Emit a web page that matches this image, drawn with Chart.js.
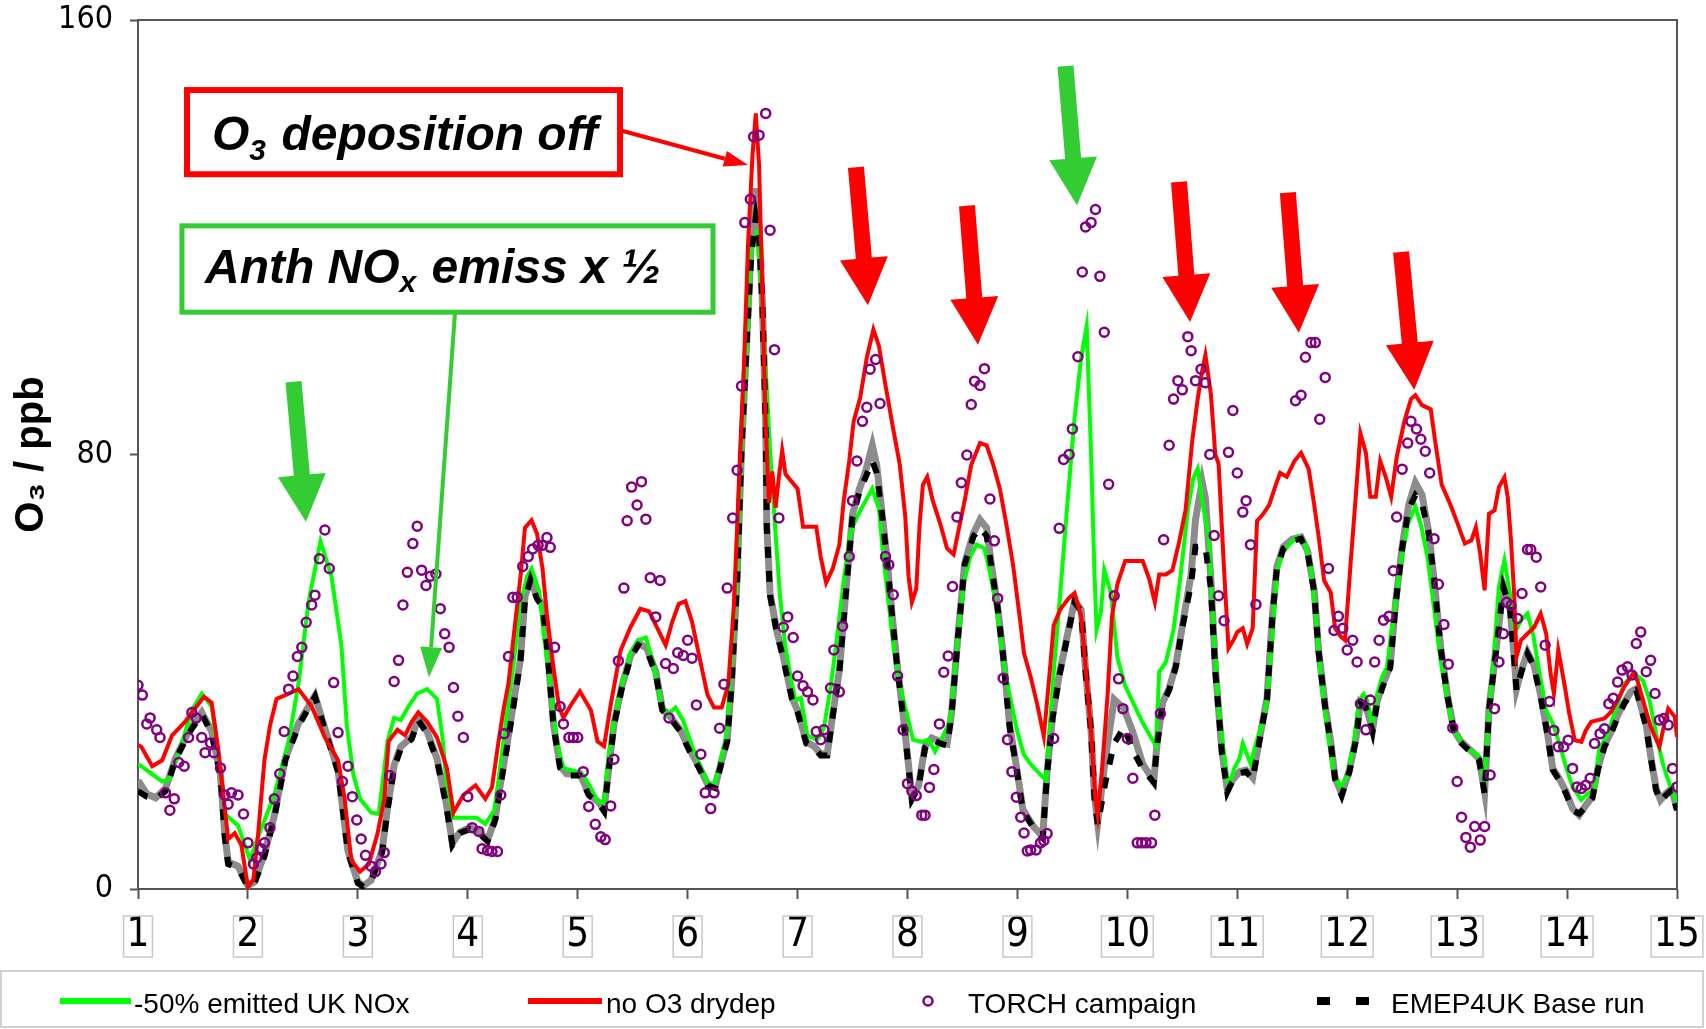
<!DOCTYPE html>
<html>
<head>
<meta charset="utf-8">
<title>O3 TORCH campaign vs EMEP4UK</title>
<script src="https://cdn.jsdelivr.net/npm/chart.js"></script>
<style>
  body { margin: 0; background: #fff; }
  #wrap { width: 1706px; height: 1029px; }
</style>
</head>
<body>
<div id="wrap"><canvas id="myChart" width="1706" height="1029"></canvas></div>
<script>
// x tick labels (day of campaign)
const dayTicks = [1, 2, 3, 4, 5, 6, 7, 8, 9, 10, 11, 12, 13, 14, 15];

// [day, O3 ppb]
const greenO3 = [
  [1.0,23],[1.03,22.6],[1.22,19.8],[1.28,20.1],[1.37,25],[1.49,32.9],[1.58,36],[1.67,33.6],[1.76,20],[1.79,13.8],
  [1.91,11.7],[2.02,5.3],[2.09,9.5],[2.24,17.3],[2.37,27.2],[2.46,37.8],[2.55,52.7],[2.66,64],[2.76,57.6],[2.85,44.9],
  [2.9,30],[2.96,21],[3.02,16.6],[3.12,14.1],[3.19,13.8],[3.27,27.2],[3.33,31.5],[3.39,31.1],[3.46,33.6],[3.54,36],
  [3.63,36.8],[3.72,35],[3.77,27.9],[3.81,18.7],[3.87,13.1],[3.99,13.1],[4.08,13.1],[4.16,12],[4.24,14.5],[4.28,20.1],
  [4.36,32.9],[4.42,42.1],[4.48,52.7],[4.54,57.6],[4.58,59],[4.65,54.8],[4.69,47],[4.75,37.8],[4.81,27.2],[4.87,22.3],
  [4.99,21.6],[5.05,21],[5.12,18.6],[5.18,16.2],[5.24,15.8],[5.28,24.4],[5.33,31],[5.39,36.8],[5.48,43.5],[5.55,45.8],
  [5.62,46.3],[5.69,41.5],[5.75,34.9],[5.81,32],[5.89,33.4],[5.96,31],[6.04,26.3],[6.12,22.4],[6.18,19.6],[6.24,19.1],
  [6.3,23.4],[6.36,29.1],[6.4,42.5],[6.45,58.7],[6.49,80.7],[6.54,101.7],[6.58,118.9],[6.63,120.8],[6.68,107.4],[6.72,92.2],
  [6.75,80.7],[6.8,65.4],[6.84,54],[6.89,44.4],[6.95,37.7],[6.98,34.8],[7.03,35.2],[7.09,28.2],[7.18,27.5],[7.24,29.7],
  [7.3,37],[7.36,46.5],[7.42,56.8],[7.48,65.6],[7.54,68.5],[7.62,71.5],[7.68,73.7],[7.74,70],[7.78,61.2],[7.83,52.4],
  [7.87,45.1],[7.92,38.5],[7.98,33.4],[8.05,27.5],[8.13,27.1],[8.19,27.5],[8.25,25.3],[8.31,27.5],[8.39,31.2],[8.45,45.1],
  [8.51,56.1],[8.57,61.2],[8.63,63.4],[8.7,62.7],[8.75,58.3],[8.81,51.7],[8.87,42.1],[8.93,35.6],[9.0,28.9],[9.06,24.7],
  [9.12,23],[9.18,21.7],[9.26,20],[9.29,28.9],[9.33,40],[9.39,54.5],[9.45,69.8],[9.52,86.8],[9.58,97.9],[9.63,103.6],
  [9.67,80],[9.7,58.7],[9.72,47.7],[9.76,51.1],[9.79,58.7],[9.85,54.5],[9.91,42.6],[9.98,37.4],[10.06,34],[10.14,30.6],
  [10.21,28.1],[10.26,26.4],[10.29,40],[10.35,41.7],[10.42,47.7],[10.48,57],[10.55,69.8],[10.6,75.7],[10.64,77.4],[10.68,71.5],
  [10.74,64.7],[10.79,46],[10.83,33.2],[10.88,24.7],[10.92,18.7],[10.97,22.1],[11.02,24],[11.05,26.8],[11.12,23.1],[11.18,27.5],
  [11.23,30.4],[11.27,34.8],[11.32,46.5],[11.36,58.3],[11.41,61.9],[11.47,63.4],[11.55,64.9],[11.61,64.1],[11.67,59],[11.71,50.9],
  [11.76,39.2],[11.82,29],[11.88,20.9],[11.94,18.7],[12.0,20.9],[12.06,26.8],[12.11,34.8],[12.15,35.9],[12.18,34.8],[12.23,30.4],
  [12.27,35.6],[12.32,39.2],[12.36,40.7],[12.42,50.2],[12.48,59],[12.55,67.1],[12.62,70.4],[12.67,67.1],[12.73,61.2],[12.79,51.7],
  [12.85,42.1],[12.91,34.8],[12.97,29],[13.03,27.5],[13.07,26.2],[13.13,25.3],[13.19,24.6],[13.25,20],[13.29,32.3],[13.34,44.6],
  [13.38,55.6],[13.43,60.5],[13.48,54.4],[13.52,47],[13.58,49.5],[13.64,50.7],[13.69,47],[13.75,39.7],[13.81,32.9],[13.87,30.5],
  [13.93,26.8],[13.99,22.5],[14.05,18.8],[14.13,16.4],[14.19,17.6],[14.25,18.2],[14.29,25.6],[14.37,28.6],[14.45,33.5],[14.52,37.8],
  [14.61,39.7],[14.69,38.4],[14.75,34.8],[14.81,28.6],[14.87,23.1],[14.95,18.2],[15.0,16]
];

const redO3 = [
  [1.0,26.5],[1.03,26.2],[1.13,22.6],[1.22,23.7],[1.31,28.3],[1.43,30.8],[1.49,32.5],[1.6,35.4],[1.67,34.3],[1.73,25.8],
  [1.78,16.6],[1.82,9.2],[1.88,10.3],[1.94,8.1],[2.0,0.4],[2.05,1.8],[2.09,9.5],[2.15,23.7],[2.2,30],[2.26,35],
  [2.34,35.7],[2.46,36.8],[2.58,33.6],[2.7,27.9],[2.82,23.7],[2.88,16.6],[2.94,5.3],[3.02,3.2],[3.1,4.6],[3.18,10.3],
  [3.24,16.6],[3.28,27.2],[3.36,29.3],[3.43,28.3],[3.49,30.8],[3.55,32.5],[3.63,30.8],[3.72,27.9],[3.81,22.3],[3.87,14.1],
  [3.96,17.3],[4.07,19.1],[4.16,16.6],[4.22,18.7],[4.28,27.2],[4.33,33.6],[4.37,37.8],[4.42,47],[4.48,57.6],[4.52,66.5],
  [4.58,67.9],[4.63,65.4],[4.68,59],[4.72,50.5],[4.78,40.7],[4.83,33.6],[4.87,31.5],[4.93,33.6],[5.02,36.4],[5.12,32.9],
  [5.18,27.2],[5.24,26.3],[5.3,33.9],[5.39,43.9],[5.48,48.2],[5.57,51.6],[5.65,51.1],[5.72,48.2],[5.8,44.9],[5.86,49.2],
  [5.92,52.5],[5.98,53],[6.04,49.2],[6.12,41.5],[6.18,35.8],[6.24,33.4],[6.31,33.4],[6.37,37.7],[6.42,52],[6.46,71.1],
  [6.51,95],[6.55,118.9],[6.59,135.1],[6.62,142.8],[6.65,133.2],[6.68,109.3],[6.71,85.5],[6.74,71.1],[6.77,76.9],[6.8,70.2],
  [6.83,75.9],[6.86,80.7],[6.89,76.4],[6.93,75.4],[7.0,73.7],[7.05,66.7],[7.17,66.7],[7.21,61.2],[7.26,56.4],[7.32,59],
  [7.38,63.4],[7.42,71.5],[7.47,78.8],[7.51,86.1],[7.57,90.5],[7.63,97.9],[7.69,103],[7.74,100],[7.8,92.7],[7.87,84.7],
  [7.93,78.1],[7.98,68.5],[8.01,57.5],[8.04,52.8],[8.08,55.3],[8.11,67.1],[8.14,74.4],[8.18,75.9],[8.23,71.5],[8.3,67.1],
  [8.36,62.7],[8.42,61.6],[8.46,65.6],[8.52,71.5],[8.58,78.1],[8.66,82.1],[8.72,81.7],[8.78,78.1],[8.84,73.7],[8.9,67.1],
  [8.96,59.7],[9.02,50.2],[9.06,43.4],[9.12,39.1],[9.18,34],[9.24,28.1],[9.29,39.1],[9.33,48.5],[9.39,51.5],[9.47,53.6],
  [9.52,54.5],[9.58,50.2],[9.62,40.8],[9.67,28.9],[9.71,16.2],[9.73,13.6],[9.77,22.1],[9.82,35.7],[9.86,50.2],[9.91,56.2],
  [9.98,60.4],[10.06,60.4],[10.14,60.4],[10.2,57],[10.25,52.8],[10.29,57.9],[10.35,57.9],[10.41,58.7],[10.47,63.8],[10.53,69.8],
  [10.59,82.5],[10.64,90.2],[10.68,95.3],[10.71,98.3],[10.76,91.1],[10.8,80],[10.83,78.3],[10.88,58.7],[10.92,44.3],[10.97,46],
  [11.0,47.3],[11.05,48],[11.09,45.1],[11.14,48],[11.18,67.8],[11.23,68.9],[11.29,70.7],[11.35,74.4],[11.39,76.6],[11.45,75.9],
  [11.52,78.8],[11.58,80.3],[11.65,77.3],[11.7,70.7],[11.74,64.9],[11.79,56.8],[11.85,54.6],[11.89,48],[11.94,46.5],[11.98,45.8],
  [12.03,59.7],[12.08,72.9],[12.12,83.9],[12.17,80.3],[12.21,72.2],[12.26,72.2],[12.3,78.8],[12.35,75.9],[12.4,72.2],[12.45,79.5],
  [12.52,86.1],[12.58,90.2],[12.62,90.9],[12.68,89.1],[12.76,88.3],[12.8,82.5],[12.86,74.4],[12.94,70.7],[13.0,67.5],[13.07,63.6],
  [13.13,64.2],[13.17,66.6],[13.21,61.7],[13.25,55],[13.29,69.1],[13.34,69.7],[13.38,74],[13.43,75.8],[13.46,72.2],[13.49,64.2],
  [13.52,53.8],[13.54,42.7],[13.58,45.8],[13.64,47],[13.7,48.2],[13.76,50.7],[13.81,47],[13.85,39.7],[13.88,36],[13.92,44],
  [13.98,37.2],[14.02,32.3],[14.07,27.4],[14.13,27.1],[14.17,29.2],[14.22,30.8],[14.28,31.1],[14.34,31.4],[14.4,32.6],[14.46,34.8],
  [14.52,37.2],[14.6,39.7],[14.64,38.4],[14.7,34.1],[14.76,29.9],[14.84,26.2],[14.88,29.9],[14.92,33.2],[14.98,31.7],[15.0,28]
];

const baseO3 = [
  [1.0,18],[1.08,17],[1.16,16.6],[1.25,18],[1.34,23.7],[1.46,28.6],[1.58,32.2],[1.67,28.6],[1.75,20.9],[1.79,9.5],
  [1.82,4.6],[1.91,3.9],[2.0,0.4],[2.06,1.1],[2.15,6],[2.24,13.1],[2.34,23.7],[2.46,30],[2.61,35.4],[2.7,29.3],
  [2.82,21.6],[2.91,6.7],[3.0,1.1],[3.05,0.4],[3.12,1.4],[3.22,6.7],[3.27,14.5],[3.33,22.3],[3.39,25.8],[3.49,27.6],
  [3.55,31.1],[3.63,28.6],[3.72,23.7],[3.8,15.9],[3.86,8.1],[3.93,10.3],[4.02,11],[4.1,10.3],[4.18,8.8],[4.25,12.7],
  [4.3,19.4],[4.36,26.5],[4.42,34.3],[4.48,42.1],[4.52,53.4],[4.57,56.9],[4.63,53.4],[4.68,52],[4.72,44.9],[4.78,30],
  [4.84,22.3],[4.9,20.9],[5.02,20.9],[5.1,17.3],[5.19,15.8],[5.24,14.3],[5.28,21.5],[5.33,30.1],[5.4,36.8],[5.48,42.5],
  [5.55,44.9],[5.63,43.9],[5.71,39.6],[5.77,32.9],[5.84,31.5],[5.93,29.1],[6.02,25.3],[6.1,22.4],[6.18,19.1],[6.25,18.6],
  [6.31,23.4],[6.36,27.2],[6.4,37.7],[6.45,56.8],[6.49,80.7],[6.54,101.7],[6.58,117],[6.62,123.7],[6.65,119.9],[6.68,107.4],
  [6.71,85.5],[6.72,66.4],[6.75,54],[6.81,47.3],[6.87,42.5],[6.95,34.9],[7.0,32.6],[7.08,26.8],[7.15,26],[7.21,24.6],
  [7.27,24.6],[7.32,31.9],[7.38,39.9],[7.44,54.6],[7.5,68.5],[7.56,72.9],[7.62,75.9],[7.68,78.8],[7.72,76.6],[7.77,68.5],
  [7.81,61.2],[7.86,50.2],[7.9,42.1],[7.96,31.9],[8.01,22.4],[8.04,16.5],[8.1,18.7],[8.16,26],[8.22,27.5],[8.3,26.8],
  [8.36,26.4],[8.4,31.9],[8.46,46.5],[8.52,59.7],[8.6,64.9],[8.66,66.5],[8.72,65],[8.76,59.7],[8.82,51.7],[8.87,42.9],
  [8.93,29.7],[8.99,22.4],[9.05,14.3],[9.15,11.1],[9.23,9.4],[9.27,21.3],[9.32,31.5],[9.38,39.1],[9.45,46],[9.52,52.8],
  [9.58,51.1],[9.62,40],[9.67,28.9],[9.7,17],[9.73,11.9],[9.8,19.6],[9.88,26.8],[9.97,29.8],[10.05,25.5],[10.14,22.1],
  [10.24,19.6],[10.27,26.4],[10.32,34],[10.38,36.6],[10.44,40.8],[10.5,48.1],[10.58,56.2],[10.62,63],[10.71,63],[10.76,55.3],
  [10.8,40],[10.83,32.8],[10.86,25.1],[10.91,17.9],[10.95,19.6],[11.02,21.3],[11.08,21.6],[11.14,20.2],[11.21,28.2],[11.27,34.8],
  [11.32,50.2],[11.36,59],[11.42,62.7],[11.5,64.1],[11.58,64.5],[11.64,61.9],[11.7,54.6],[11.74,43.6],[11.8,33.4],[11.85,26.8],
  [11.89,20.2],[11.95,17.2],[12.02,21.6],[12.08,27.5],[12.12,34.1],[12.17,33.4],[12.23,29],[12.27,34.1],[12.33,37.7],[12.39,40.7],
  [12.44,52.4],[12.5,62.7],[12.56,70],[12.62,72.5],[12.68,71],[12.74,65.6],[12.79,56.8],[12.85,44.3],[12.91,35.6],[12.97,29],
  [13.03,27],[13.07,26.2],[13.14,24.9],[13.2,23.7],[13.25,17.6],[13.29,32.9],[13.34,41.5],[13.38,48.2],[13.42,55.6],[13.48,51.9],
  [13.51,44.6],[13.54,36.6],[13.58,39.7],[13.64,43.3],[13.7,40.9],[13.76,35.4],[13.82,28.6],[13.87,21.9],[13.93,20],[13.99,17.6],
  [14.05,14.5],[14.11,13.9],[14.17,15.1],[14.23,16.7],[14.28,21.9],[14.34,26.2],[14.4,28.6],[14.46,31.7],[14.52,34.1],[14.58,36],
  [14.63,36.6],[14.67,33.5],[14.72,29.9],[14.76,24.3],[14.81,18.2],[14.85,16.1],[14.9,17.3],[14.95,18.2],[15.0,14.5]
];

// grey run drawn under the base run (no legend entry)
const greyO3 = [
  [1.0,20],[1.08,17.5],[1.16,16.8],[1.25,18.5],[1.34,24],[1.46,29],[1.58,32.5],[1.67,29],[1.75,21],[1.79,10],
  [1.82,5],[1.91,4.2],[2.0,0.6],[2.06,1.3],[2.15,6.5],[2.24,13.5],[2.34,24],[2.46,30.5],[2.61,35.6],[2.7,29.5],
  [2.82,21.8],[2.91,7],[3.0,1.3],[3.05,0.6],[3.12,1.6],[3.22,7],[3.27,15],[3.33,22.8],[3.39,26.2],[3.49,28],
  [3.55,31.5],[3.63,29],[3.72,24],[3.8,16.3],[3.86,8.5],[3.93,10.5],[4.02,11.3],[4.1,10.6],[4.18,9],[4.25,13],
  [4.3,19.8],[4.36,27],[4.42,34.8],[4.48,42.5],[4.52,53.8],[4.57,57.2],[4.63,53.8],[4.68,52.3],[4.72,45.3],[4.78,30.3],
  [4.84,22.6],[4.9,21.2],[5.02,21.2],[5.1,17.6],[5.19,16],[5.24,14.6],[5.28,21.8],[5.33,30.4],[5.4,37.2],[5.48,42.9],
  [5.55,45.3],[5.63,44.3],[5.71,40],[5.77,33.2],[5.84,31.8],[5.93,29.4],[6.02,25.6],[6.1,22.7],[6.18,19.4],[6.25,18.9],
  [6.31,23.7],[6.36,27.5],[6.4,38],[6.45,57.2],[6.49,81],[6.54,102],[6.58,120],[6.62,129],[6.65,122],[6.68,108],
  [6.71,86],[6.72,67],[6.75,54.5],[6.81,47.6],[6.87,42.8],[6.95,35.2],[7.0,32.9],[7.08,27.1],[7.15,26.3],[7.21,24.9],
  [7.27,24.9],[7.32,32.2],[7.38,40.2],[7.44,55],[7.5,69],[7.56,73.5],[7.62,77],[7.68,81.7],[7.72,78],[7.77,69],
  [7.81,61.5],[7.86,50.5],[7.9,42.4],[7.96,32.2],[8.01,22.7],[8.04,16.8],[8.1,19],[8.16,26.3],[8.22,27.8],[8.3,27.1],
  [8.36,26.7],[8.4,32.2],[8.46,46.8],[8.52,60],[8.6,65.5],[8.66,68],[8.72,66.5],[8.76,60.2],[8.82,52],[8.87,43.2],
  [8.93,30],[8.99,22.7],[9.05,14.6],[9.15,11.4],[9.23,9.7],[9.27,21.6],[9.32,31.8],[9.38,39.4],[9.45,46.3],[9.52,53.1],
  [9.58,51.4],[9.62,40.3],[9.67,29.2],[9.7,17.3],[9.73,12.2],[9.8,24],[9.88,34.9],[9.97,33.2],[10.05,28.9],[10.14,23],
  [10.24,19.9],[10.27,26.7],[10.32,34.3],[10.38,36.9],[10.44,41.1],[10.5,48.4],[10.58,58],[10.62,68],[10.68,75],[10.71,72],
  [10.76,57],[10.8,41],[10.83,33.1],[10.86,25.4],[10.91,18.2],[10.95,19.9],[11.02,21.6],[11.08,21.9],[11.14,20.5],[11.21,28.5],
  [11.27,35.1],[11.32,50.5],[11.36,59.3],[11.42,63],[11.5,64.4],[11.58,64.8],[11.64,62.2],[11.7,54.9],[11.74,43.9],[11.8,33.7],
  [11.85,27.1],[11.89,20.5],[11.95,17.5],[12.02,21.9],[12.08,27.8],[12.12,34.4],[12.17,33.7],[12.23,29.3],[12.27,34.4],[12.33,38],
  [12.39,41],[12.44,52.7],[12.5,63],[12.56,70.8],[12.62,74.8],[12.68,72.6],[12.74,65.9],[12.79,57.1],[12.85,44.6],[12.91,35.9],
  [12.97,29.3],[13.03,27.3],[13.07,26.5],[13.14,25.2],[13.2,24],[13.25,17.9],[13.29,33.2],[13.34,41.8],[13.38,48.5],[13.42,55.9],
  [13.48,52.2],[13.51,44.9],[13.54,36.9],[13.58,40],[13.64,43.6],[13.7,41.2],[13.76,35.7],[13.82,28.9],[13.87,22.2],[13.93,20.3],
  [13.99,17.9],[14.05,14.8],[14.11,13.6],[14.17,15.4],[14.23,17],[14.28,22.2],[14.34,26.5],[14.4,28.9],[14.46,32],[14.52,34.4],
  [14.58,36.3],[14.63,36.9],[14.67,33.8],[14.72,30.2],[14.76,24.6],[14.81,18.5],[14.85,16.4],[14.9,17.6],[14.95,18.5],[15.0,14.8]
];

const torchO3 = [
  [1.0,37.5],[1.04,35.7],[1.08,30.4],[1.11,31.5],[1.17,29.3],[1.2,27.9],[1.25,17.7],[1.29,14.5],[1.33,16.6],[1.37,23.3],
  [1.42,22.6],[1.46,27.9],[1.49,32.5],[1.53,31.5],[1.58,27.9],[1.61,25.1],[1.66,26.9],[1.69,25.1],[1.75,22.3],[1.79,17.3],
  [1.82,15.6],[1.85,17.7],[1.91,17.3],[1.96,13.8],[2.0,8.5],[2.05,4.6],[2.08,5.7],[2.12,7.4],[2.15,8.5],[2.2,11.3],
  [2.24,16.6],[2.29,21.2],[2.33,29],[2.37,36.8],[2.41,39.2],[2.45,42.8],[2.49,44.5],[2.53,49.1],[2.58,52.3],[2.61,54.1],
  [2.65,60.8],[2.7,66.1],[2.74,59],[2.78,38],[2.82,28.8],[2.86,19.8],[2.91,22.6],[2.95,17],[2.99,12.7],[3.03,9.2],
  [3.07,6.2],[3.12,4.2],[3.16,3.2],[3.21,4.6],[3.24,6.7],[3.29,20.9],[3.33,38.2],[3.37,42.1],[3.41,52.3],[3.45,58.3],
  [3.5,63.6],[3.54,66.8],[3.58,58.7],[3.62,55.9],[3.66,57.6],[3.71,58],[3.75,51.6],[3.79,47],[3.83,44.5],[3.87,37.1],
  [3.91,31.8],[3.96,27.9],[4.0,17],[4.04,11.3],[4.1,10.6],[4.13,7.4],[4.18,7.1],[4.22,6.9],[4.27,6.9],[4.3,17.3],
  [4.33,28.6],[4.37,42.8],[4.41,53.7],[4.45,53.7],[4.5,59.4],[4.55,61.2],[4.59,62.6],[4.64,63.3],[4.68,63.3],[4.72,64.7],
  [4.75,62.9],[4.79,44.5],[4.84,33.6],[4.87,30.4],[4.92,27.9],[4.96,27.9],[5.0,27.9],[5.05,21.6],[5.1,15.2],[5.16,11.9],
  [5.21,9.6],[5.25,9.1],[5.3,15.3],[5.33,23.9],[5.37,42],[5.42,55.4],[5.45,67.8],[5.49,74],[5.54,70.7],[5.58,75],
  [5.62,68.1],[5.66,57.3],[5.71,50.1],[5.75,56.8],[5.8,41.5],[5.83,31.5],[5.87,40.6],[5.91,43.5],[5.96,43],[6.0,45.8],
  [6.04,42.5],[6.08,33.9],[6.12,24.8],[6.16,17.7],[6.21,14.8],[6.24,17.7],[6.29,29.6],[6.33,37.7],[6.36,55.4],[6.41,68.3],
  [6.45,77.1],[6.49,92.6],[6.52,122.7],[6.57,127],[6.6,138.5],[6.65,138.8],[6.71,142.8],[6.75,121.3],[6.79,99.3],[6.83,68.3],
  [6.87,48.2],[6.91,50.1],[6.96,46.3],[7.0,39.2],[7.05,37.4],[7.09,36.3],[7.14,34.8],[7.17,29],[7.21,27.5],[7.24,29.3],
  [7.3,37],[7.33,44],[7.38,36.3],[7.41,48.4],[7.47,61.2],[7.5,71.5],[7.54,78.8],[7.59,86.1],[7.63,88.7],[7.66,95.7],
  [7.71,97.5],[7.75,89.4],[7.8,61.2],[7.83,59.7],[7.87,54.2],[7.91,39.2],[7.96,29.3],[8.0,19.4],[8.04,18],[8.08,17.2],
  [8.13,13.6],[8.16,13.6],[8.2,18.7],[8.24,22],[8.29,30.4],[8.33,39.9],[8.37,42.9],[8.41,55.7],[8.45,68.5],[8.49,74.8],
  [8.54,79.9],[8.58,89.2],[8.61,93.5],[8.66,92.7],[8.7,95.8],[8.75,71.8],[8.79,64.1],[8.82,53.5],[8.87,38.8],[8.91,27.5],
  [8.95,21.6],[8.99,16.9],[9.03,13.2],[9.06,10.3],[9.09,7],[9.12,7.2],[9.17,7.2],[9.21,8.5],[9.24,8.9],[9.27,10.2],
  [9.33,27.7],[9.38,66.4],[9.42,79.1],[9.47,80],[9.5,84.7],[9.55,98],[9.59,113.6],[9.62,121.9],[9.67,122.7],[9.71,125.1],
  [9.75,112.8],[9.79,102.5],[9.83,74.5],[9.88,54],[9.92,38.7],[9.96,33.2],[10.0,27.7],[10.05,20.4],[10.09,8.5],[10.13,8.5],
  [10.17,8.5],[10.22,8.5],[10.25,13.6],[10.3,32.3],[10.33,64.3],[10.38,81.7],[10.42,90.2],[10.46,93.6],[10.5,91.9],[10.55,101.7],
  [10.58,99.1],[10.62,93.6],[10.67,95.7],[10.71,93.2],[10.75,80],[10.79,65.1],[10.83,54],[10.88,49.4],[10.92,80.4],[10.96,88.1],
  [11.0,76.6],[11.05,69.4],[11.08,71.5],[11.12,63.4],[11.17,52.4],[11.53,89.9],[11.58,90.9],[11.62,97.9],[11.67,100.6],[11.71,100.6],
  [11.75,86.5],[11.8,94.2],[11.83,59],[11.88,47.6],[11.92,50.2],[11.96,48],[12.0,44],[12.05,45.8],[12.09,41.8],[12.12,34.1],
  [12.17,29.3],[12.21,34.8],[12.25,41.8],[12.29,45.8],[12.33,49.5],[12.38,50.2],[12.42,58.6],[12.45,68.5],[12.5,77.3],[12.55,82.1],
  [12.58,86.1],[12.63,84.7],[12.67,82.8],[12.71,80.6],[12.75,76.6],[12.79,64.5],[12.83,56.1],[12.88,48.7],[12.92,41.4],[12.96,29.7],
  [13.0,19.8],[13.04,13.2],[13.08,9.5],[13.12,7.7],[13.16,11.5],[13.21,9],[13.25,11.5],[13.3,21],[13.34,33.2],[13.38,41.8],
  [13.42,47],[13.45,52.8],[13.49,52.2],[13.55,49.8],[13.59,54.4],[13.64,62.5],[13.67,62.5],[13.72,61.1],[13.76,55.6],[13.8,44.9],
  [13.84,34.5],[13.88,29.2],[13.92,26.2],[13.97,26.2],[14.01,27.4],[14.05,22.2],[14.09,18.8],[14.13,18.5],[14.17,19.1],[14.21,20.4],
  [14.25,26.8],[14.3,28.6],[14.34,29.5],[14.38,34.1],[14.42,35.1],[14.46,38.1],[14.5,40.3],[14.55,40.9],[14.59,39.4],[14.63,45.2],
  [14.67,47.3],[14.72,40],[14.76,42.1],[14.8,36],[14.84,31.1],[14.88,31.4],[14.92,30.2],[14.96,22.2],[15.0,18.8]
];

function xy(list) {
  return list.map(p => ({ x: p[0], y: p[1] }));
}

const sansFont = '"Liberation Sans", Arial, sans-serif';
const narrowFont = '"Liberation Sans Narrow", "Arial Narrow", "DejaVu Sans Condensed", sans-serif';

//Annotations, placed in data units (day, ppb)
const redBox = { x1: 1.446, x2: 5.385, top: 147.1, bottom: 131.6 };
const greenBox = { x1: 1.4, x2: 6.231, top: 122.1, bottom: 106.2 };
const redPointer = { from: [5.403, 139.6], to: [6.549, 133.3] };
const greenPointer = { from: [3.884, 106.2], to: [3.647, 39.0] };
const bigArrows = [
  { from: [2.415, 93.4], to: [2.528, 67.6], color: "#33cc33" },
  { from: [9.437, 151.5], to: [9.542, 125.9], color: "#33cc33" },
  { from: [7.531, 132.9], to: [7.64, 107.5], color: "#ff0000" },
  { from: [8.541, 125.8], to: [8.641, 100.2], color: "#ff0000" },
  { from: [10.47, 130.2], to: [10.57, 104.4], color: "#ff0000" },
  { from: [11.46, 128.2], to: [11.56, 102.4], color: "#ff0000" },
  { from: [12.49, 117.3], to: [12.61, 91.9], color: "#ff0000" },
];

//Legend layout (pixels)
const legendItems = [
  { ds: 0, kind: "line", x: 60, w: 71, textX: 134 },
  { ds: 1, kind: "line", x: 528, w: 74, textX: 606 },
  { ds: 2, kind: "circle", x: 928, w: 0, textX: 968 },
  { ds: 3, kind: "dash", x: 1317, w: 52, textX: 1391 },
];

function toPx(chart, p) {
  return [chart.scales.x.getPixelForValue(p[0]), chart.scales.y.getPixelForValue(p[1])];
}

function drawBigArrow(ctx, a, b, color) {
  const dx = b[0] - a[0], dy = b[1] - a[1], len = Math.hypot(dx, dy);
  const ux = dx / len, uy = dy / len, nx = -uy, ny = ux;
  const hl = 47, sw = 8, hw = 24;
  const bx = b[0] - ux * hl, by = b[1] - uy * hl;
  ctx.beginPath();
  ctx.moveTo(a[0] + nx * sw, a[1] + ny * sw);
  ctx.lineTo(bx + nx * sw, by + ny * sw);
  ctx.lineTo(bx + nx * hw, by + ny * hw);
  ctx.lineTo(b[0], b[1]);
  ctx.lineTo(bx - nx * hw, by - ny * hw);
  ctx.lineTo(bx - nx * sw, by - ny * sw);
  ctx.lineTo(a[0] - nx * sw, a[1] - ny * sw);
  ctx.closePath();
  ctx.fillStyle = color;
  ctx.fill();
}

function drawPointer(ctx, a, b, color, width, hl, hw) {
  const dx = b[0] - a[0], dy = b[1] - a[1], len = Math.hypot(dx, dy);
  const ux = dx / len, uy = dy / len, nx = -uy, ny = ux;
  const bx = b[0] - ux * hl, by = b[1] - uy * hl;
  ctx.strokeStyle = color;
  ctx.lineWidth = width;
  ctx.beginPath();
  ctx.moveTo(a[0], a[1]);
  ctx.lineTo(bx, by);
  ctx.stroke();
  ctx.fillStyle = color;
  ctx.beginPath();
  ctx.moveTo(b[0], b[1]);
  ctx.lineTo(bx + nx * hw / 2, by + ny * hw / 2);
  ctx.lineTo(bx - nx * hw / 2, by - ny * hw / 2);
  ctx.closePath();
  ctx.fill();
}

// text pieces, some of them subscript
function drawRich(ctx, parts, x, y, size) {
  ctx.fillStyle = "#000";
  ctx.textBaseline = "alphabetic";
  ctx.textAlign = "left";
  parts.forEach(p => {
    const s = p.sub ? Math.round(size * 0.62) : size;
    ctx.font = "italic bold " + s + "px " + sansFont;
    ctx.fillText(p.t, x, y + (p.sub ? size * 0.2 : 0));
    x += ctx.measureText(p.t).width + (p.sub ? 2 : 0);
  });
}

function drawBox(ctx, chart, box, color, width) {
  const tl = toPx(chart, [box.x1, box.top]);
  const br = toPx(chart, [box.x2, box.bottom]);
  ctx.fillStyle = "#fff";
  ctx.fillRect(tl[0], tl[1], br[0] - tl[0], br[1] - tl[1]);
  ctx.strokeStyle = color;
  ctx.lineWidth = width;
  ctx.strokeRect(tl[0], tl[1], br[0] - tl[0], br[1] - tl[1]);
  return tl;
}

const decor = {
  id: "decor",
  beforeDatasetsDraw(chart) {
    const { ctx, chartArea: a } = chart;
    ctx.save();
    ctx.strokeStyle = "#555";
    ctx.lineWidth = 2;
    ctx.beginPath();
    ctx.moveTo(a.left, a.top);
    ctx.lineTo(a.right, a.top);
    ctx.lineTo(a.right, a.bottom);
    ctx.stroke();
    ctx.restore();
  },
  afterDraw(chart) {
    const ctx = chart.ctx;
    const xs = chart.scales.x;
    ctx.save();

    // thin frames round the day labels
    ctx.font = "40px " + narrowFont;
    ctx.strokeStyle = "#c8c8c8";
    ctx.lineWidth = 1.5;
    xs.ticks.forEach(t => {
      const px = xs.getPixelForValue(t.value);
      const w = ctx.measureText(String(t.value)).width;
      ctx.strokeRect(px - w / 2 - 3, xs.top + 27, w + 6, 41);
    });

    // text boxes and pointers
    let tl = drawBox(ctx, chart, redBox, "#ff0000", 6);
    drawRich(ctx, [{ t: "O" }, { t: "3", sub: true }, { t: " deposition off" }], tl[0] + 25, tl[1] + 60, 48);
    drawPointer(ctx, toPx(chart, redPointer.from), toPx(chart, redPointer.to), "#ff0000", 4, 24, 16);

    tl = drawBox(ctx, chart, greenBox, "#33cc33", 5);
    drawRich(ctx, [{ t: "Anth NO" }, { t: "x", sub: true }, { t: " emiss x \u00bd" }], tl[0] + 23, tl[1] + 57, 48);
    drawPointer(ctx, toPx(chart, greenPointer.from), toPx(chart, greenPointer.to), "#33cc33", 4, 30, 22);

    bigArrows.forEach(a => drawBigArrow(ctx, toPx(chart, a.from), toPx(chart, a.to), a.color));

    // legend
    ctx.strokeStyle = "#d0d0d0";
    ctx.lineWidth = 2;
    ctx.strokeRect(1, 971, 1702, 56);
    const ly = 1001;
    ctx.font = "28px " + sansFont;
    ctx.textBaseline = "alphabetic";
    ctx.textAlign = "left";
    legendItems.forEach(it => {
      const ds = chart.data.datasets[it.ds];
      if (it.kind === "line") {
        ctx.strokeStyle = ds.borderColor;
        ctx.lineWidth = 6;
        ctx.beginPath();
        ctx.moveTo(it.x, ly);
        ctx.lineTo(it.x + it.w, ly);
        ctx.stroke();
      } else if (it.kind === "circle") {
        ctx.strokeStyle = ds.borderColor;
        ctx.lineWidth = 2.5;
        ctx.beginPath();
        ctx.arc(it.x, ly, 4.5, 0, Math.PI * 2);
        ctx.stroke();
      } else {
        ctx.fillStyle = ds.borderColor;
        ctx.fillRect(it.x, ly - 4, 13, 8);
        ctx.fillRect(it.x + 39, ly - 4, 13, 8);
      }
      ctx.fillStyle = "#000";
      ctx.fillText(ds.label, it.textX, 1013);
    });
    ctx.restore();
  },
};

//Chart
new Chart("myChart", {
  type: "line",
  data: {
    datasets: [
      {
        label: "-50% emitted UK NOx",
        data: xy(greenO3),
        borderColor: "#00ff00",
        borderWidth: 4,
        pointRadius: 0,
        order: 3,
      },
      {
        label: "no O3 drydep",
        data: xy(redO3),
        borderColor: "#ff0000",
        borderWidth: 4,
        pointRadius: 0,
        order: 1,
      },
      {
        label: "TORCH campaign",
        data: xy(torchO3),
        showLine: false,
        borderColor: "#800080",
        backgroundColor: "rgba(0,0,0,0)",
        pointStyle: "circle",
        pointRadius: 4.5,
        pointBorderWidth: 2.5,
        order: 0,
      },
      {
        label: "EMEP4UK Base run",
        data: xy(baseO3),
        borderColor: "#000000",
        borderWidth: 6,
        borderDash: [11, 13],
        pointRadius: 0,
        order: 2,
      },
      {
        label: "grey",
        data: xy(greyO3),
        borderColor: "#8c8c8c",
        borderWidth: 7,
        pointRadius: 0,
        order: 4,
      },
    ],
  },
  options: {
    responsive: false,
    animation: false,
    devicePixelRatio: 1,
    layout: { padding: { top: 20, right: 29, bottom: 0, left: 0 } },
    plugins: {
      legend: { display: false },
      tooltip: { enabled: false },
    },
    scales: {
      x: {
        type: "linear",
        min: 1,
        max: 15,
        afterFit: (s) => { s.height = 140; s.paddingLeft = 0; s.paddingRight = 0; },
        afterBuildTicks: (s) => { s.ticks = dayTicks.map(v => ({ value: v })); },
        ticks: {
          padding: 13,
          color: "#000",
          autoSkip: false,
          maxRotation: 0,
          font: { family: narrowFont, size: 40 },
        },
        grid: { display: true, drawOnChartArea: false, drawTicks: true, tickLength: 10, tickWidth: 2, tickColor: "#555" },
        border: { display: true, color: "#555", width: 2 },
      },
      y: {
        min: 0,
        max: 160,
        afterFit: (s) => { s.width = 138; s.paddingTop = 0; s.paddingBottom = 0; },
        ticks: {
          stepSize: 80,
          padding: 17,
          color: "#000",
          font: { family: narrowFont, size: 32 },
        },
        grid: { display: true, drawOnChartArea: false, drawTicks: true, tickLength: 8, tickWidth: 2, tickColor: "#555" },
        border: { display: true, color: "#555", width: 2 },
        title: {
          display: true,
          text: "O\u2083 / ppb",
          color: "#000",
          font: { family: sansFont, size: 40, weight: "bold" },
          padding: { top: 8, bottom: 0 },
        },
      },
    },
  },
  plugins: [decor],
});
</script>
</body>
</html>
